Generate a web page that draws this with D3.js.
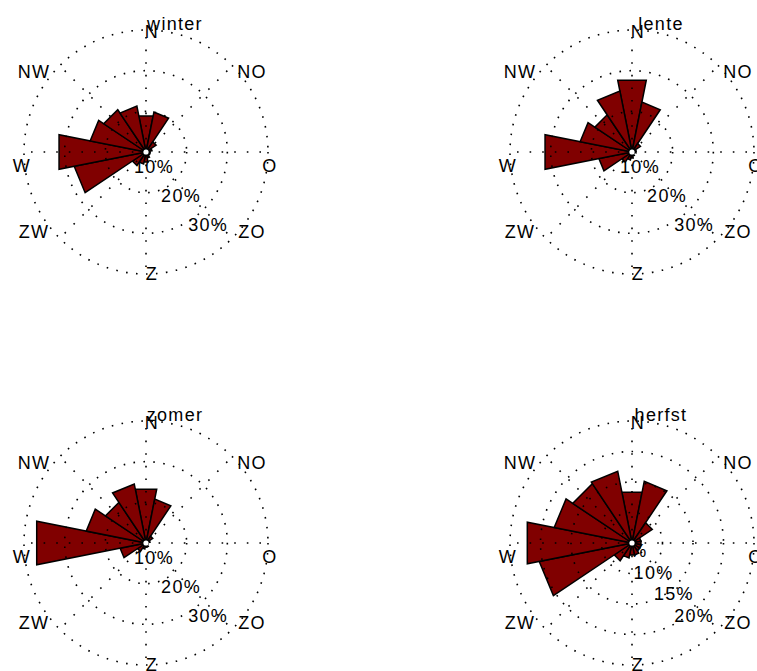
<!DOCTYPE html>
<html>
<head>
<meta charset="utf-8">
<script src="https://cdn.jsdelivr.net/npm/d3@7"></script>
<style>
  html, body { margin: 0; padding: 0; background: #ffffff; }
  svg { display: block; }
  text { font-family: "Liberation Sans", Arial, Helvetica, sans-serif; font-size: 18px; fill: #000; letter-spacing: 1.3px; }
</style>
</head>
<body>
<svg id="chart" width="757" height="671"></svg>
<script>
// ---- data ----
const directions = ["N","NNO","NO","ONO","O","OZO","ZO","ZZO","Z","ZZW","ZW","WZW","W","WNW","NW","NNW"];
const compassLabels = ["N","NO","O","ZO","Z","ZW","W","NW"];
const seasons = ["winter","lente","zomer","herfst"];
const winterValues = [9, 10, 3, 1.5, 1, 1, 1, 1.5, 2.5, 3, 4, 18, 21.8, 14, 12.5, 11.5];
const lenteValues  = [18, 12.5, 2.5, 1, 1, 0.5, 0.5, 1, 1.5, 2, 3, 8.3, 21.8, 13, 11, 15.3];
const zomerValues  = [13.5, 11, 2, 1, 0.5, 0.5, 0.5, 1, 1, 1.5, 2.5, 6.5, 27.4, 15, 12, 14.8];
const herfstValues = [8.5, 10.3, 4, 1.5, 1.5, 1.5, 1.5, 2, 2, 2.5, 3.5, 15.5, 17.5, 13, 11.7, 12];
const winterTicks = [10, 20, 30];
const lenteTicks  = [10, 20, 30];
const zomerTicks  = [10, 20, 30];
const herfstTicks = [5, 10, 15, 20];

// ---- layout ----
const panels = [
  { name: seasons[0], values: winterValues, ticks: winterTicks, cx: 146, cy: 152 },
  { name: seasons[1], values: lenteValues,  ticks: lenteTicks,  cx: 632, cy: 152 },
  { name: seasons[2], values: zomerValues,  ticks: zomerTicks,  cx: 146, cy: 543 },
  { name: seasons[3], values: herfstValues, ticks: herfstTicks, cx: 632, cy: 543 }
];
const R = 122;
const fillColor = "#800000";
// empirical label offsets (text centre) for compass labels, relative to plot centre
const compassOffsets = [[6,-121],[106,-81],[124,13],[106,79],[6,121],[-112,79],[-124,13],[-112,-81]];

const svg = d3.select("#chart");
const toRad = Math.PI / 180;
const pt = (cx, cy, r, deg) => [cx + r * Math.sin(deg * toRad), cy - r * Math.cos(deg * toRad)];

panels.forEach(p => {
  const rmax = d3.max(p.ticks);
  const r = d3.scaleLinear().domain([0, rmax]).range([0, R]);
  const angle = d3.scaleBand().domain(directions).range([-11.25, 360 - 11.25]);
  const g = svg.append("g");

  // percent labels (under the wedges)
  g.selectAll("text.tick").data(p.ticks).join("text")
    .attr("class", "tick")
    .attr("x", d => p.cx - 19 + 0.665 * r(d))
    .attr("y", d => p.cy - 14 + 0.71 * r(d) + 6.5)
    .attr("text-anchor", "middle")
    .text(d => d + "%");

  // wedges
  const line = d3.line();
  g.selectAll("path.wedge").data(directions).join("path")
    .attr("class", "wedge")
    .attr("d", (d, i) => {
      const a0 = angle(d), a1 = a0 + angle.bandwidth();
      const v = r(p.values[i]);
      return line([[p.cx, p.cy], pt(p.cx, p.cy, v, a0), pt(p.cx, p.cy, v, a1)]) + "Z";
    })
    .attr("fill", fillColor)
    .attr("stroke", "#000")
    .attr("stroke-width", 1.5)
    .attr("stroke-linejoin", "miter");

  // dotted grid
  g.selectAll("circle.ring").data(p.ticks).join("circle")
    .attr("class", "ring")
    .attr("cx", p.cx).attr("cy", p.cy)
    .attr("r", d => r(d))
    .attr("fill", "none")
    .attr("stroke", "#000")
    .attr("stroke-width", 1.6)
    .attr("stroke-dasharray", "1.6 8.4");

  g.selectAll("line.spoke").data(compassLabels).join("line")
    .attr("class", "spoke")
    .attr("x1", p.cx).attr("y1", p.cy)
    .attr("x2", (d, i) => pt(p.cx, p.cy, r(rmax), i * 45)[0])
    .attr("y2", (d, i) => pt(p.cx, p.cy, r(rmax), i * 45)[1])
    .attr("stroke", "#000")
    .attr("stroke-width", 1.6)
    .attr("stroke-dasharray", "1.6 11");

  // centre dot
  g.append("circle").attr("cx", p.cx).attr("cy", p.cy).attr("r", 2.6).attr("fill", "#fff");

  // compass labels
  g.selectAll("text.dir").data(compassLabels).join("text")
    .attr("class", "dir")
    .attr("x", (d, i) => p.cx + compassOffsets[i][0])
    .attr("y", (d, i) => p.cy + compassOffsets[i][1] + 6.5)
    .attr("text-anchor", "middle")
    .text(d => d);

  // title
  g.append("text")
    .attr("x", p.cx + 29)
    .attr("y", p.cy - 122)
    .attr("text-anchor", "middle")
    .text(p.name);
});
</script>
</body>
</html>
